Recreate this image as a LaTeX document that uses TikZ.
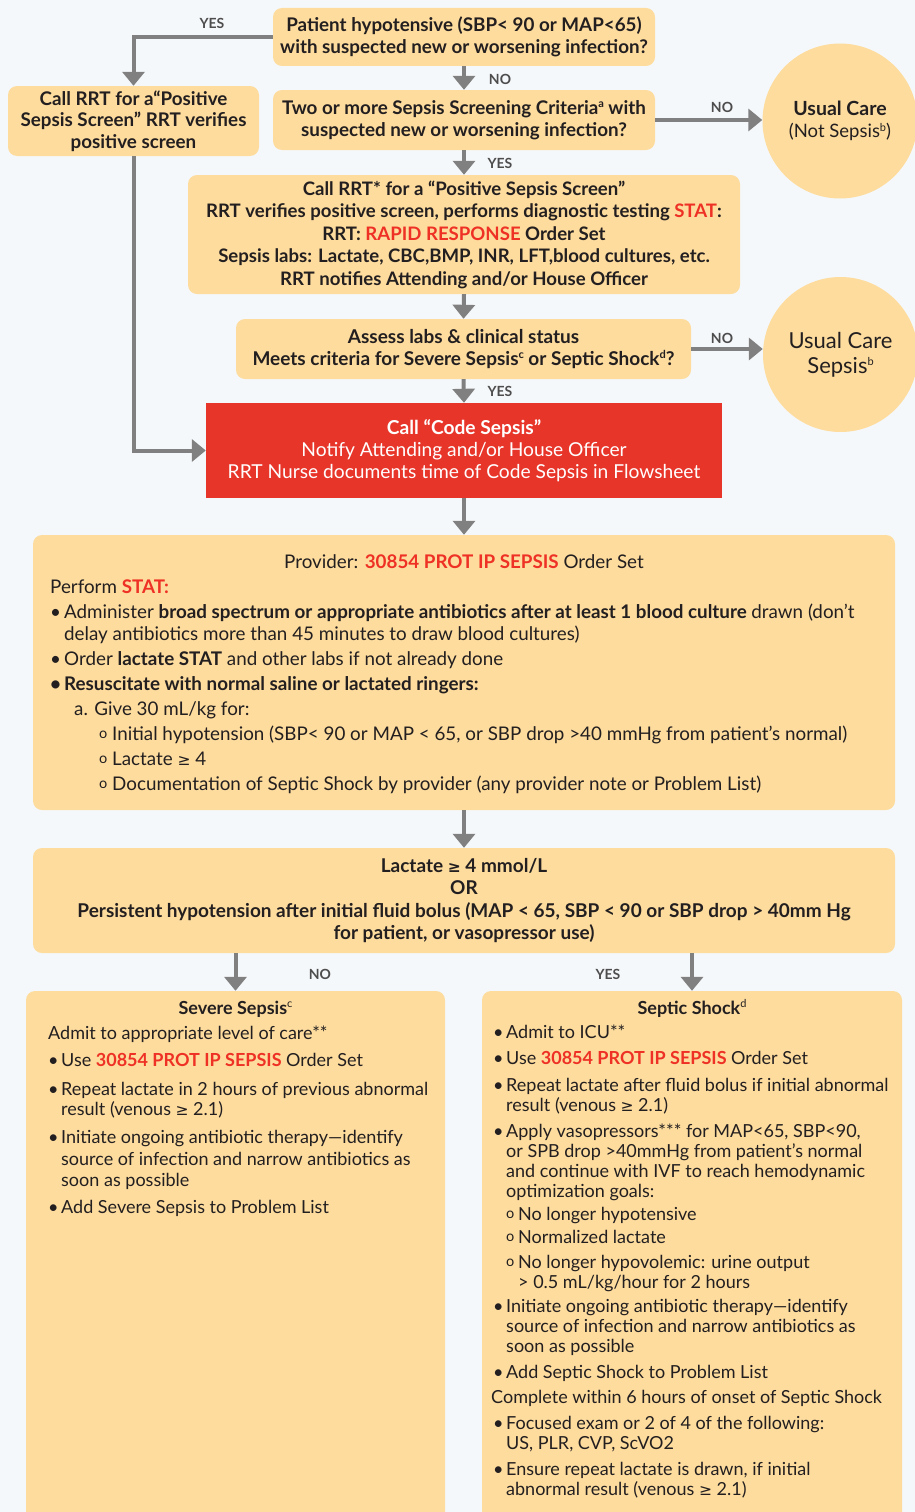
\documentclass[tikz,border=0pt]{standalone}
\usepackage{fontspec}
\setmainfont{Lato}
\newfontfamily\dejavu{DejaVu Sans}
\usetikzlibrary{arrows.meta}
\definecolor{bgc}{HTML}{F5F8FA}
\definecolor{boxc}{HTML}{FDDC9E}
\definecolor{redc}{HTML}{E8352A}
\definecolor{redt}{HTML}{EE3124}
\definecolor{arr}{HTML}{808080}
\definecolor{txt}{HTML}{231F20}
\definecolor{lab}{HTML}{4D4D4D}
\newcommand\GE{{\dejavu\fontsize{15.5}{15}\selectfont ≥}}
\newcommand\ob{\raisebox{1.5pt}{\fontsize{14.5}{14}\selectfont o}}
\newcommand\sups[1]{\raisebox{0.7ex}{\fontsize{11}{11}\selectfont #1}}
\newcounter{tn}
\newcommand\Tx[4][]{\stepcounter{tn}\node[tl,#1] (t\arabic{tn}) at (#2,{#3+6}) {#4};}
\tikzset{
  box/.style={fill=boxc, rounded corners=9pt, inner sep=0pt, text=txt, align=center},
  flow/.style={draw=arr, line width=4pt, -{Triangle[width=22pt,length=14pt]}},
  lbl/.style={font=\bfseries\fontsize{14}{14}\selectfont, text=lab, inner sep=0pt},
  tl/.style={anchor=base west, inner sep=0pt, text=txt},
  hd/.style={font=\bfseries\fontsize{18.8}{21.5}\selectfont},
  circ/.style={circle, fill=boxc, minimum size=155pt, inner sep=0pt, text=txt, align=center},
}
\begin{document}
\begin{tikzpicture}[x=1pt,y=-1pt]
\clip (0,0) rectangle (915,1512);
\fill[bgc] (0,0) rectangle (915,1512);

% top boxes
\node[box, hd, minimum width=382, minimum height=58] (b1) at (464,37)
  {Patient hypotensive (SBP< 90 or MAP<65)\\with suspected new or worsening infection?};
\node[box, hd, minimum width=382, minimum height=60] (b2) at (464,120)
  {Two or more Sepsis Screening Criteria\sups{a} with\\suspected new or worsening infection?};
\node[box, hd, minimum width=251, minimum height=70] (rrt) at (133.5,121)
  {Call RRT for a“Positive\\Sepsis Screen” RRT verifies\\positive screen};
\node[box, font=\bfseries\fontsize{18.6}{22.5}\selectfont, minimum width=552, minimum height=119] (b3) at (464,234.5)
  {Call RRT* for a “Positive Sepsis Screen”\\
   RRT verifies positive screen, performs diagnostic testing \textcolor{redt}{STAT}:\\
   RRT: \textcolor{redt}{RAPID RESPONSE} Order Set\\
   Sepsis labs: Lactate, CBC,BMP, INR, LFT,blood cultures, etc.\\
   RRT notifies Attending and/or House Officer};
\node[box, font=\bfseries\fontsize{19}{22}\selectfont, minimum width=455, minimum height=60] (b4) at (463.5,349)
  {Assess labs \& clinical status\\Meets criteria for Severe Sepsis\sups{c} or Septic Shock\sups{d}?};
\node[fill=redc, inner sep=0pt, text=white, align=center, font=\fontsize{19.2}{22}\selectfont,
      minimum width=516, minimum height=95] (red) at (464,450.5)
  {\textbf{Call “Code Sepsis”}\\Notify Attending and/or House Officer\\RRT Nurse documents time of Code Sepsis in Flowsheet};

% circles
\node[circ, font=\fontsize{18.5}{22}\selectfont] (c1) at (840,121)
  {{\bfseries\fontsize{19.5}{22}\selectfont Usual Care}\\(Not Sepsis\sups{b})};
\node[circ, font=\fontsize{22}{25}\selectfont] (c2) at (840.5,354.5)
  {Usual Care\\Sepsis\sups{b}};

% big boxes
\node[box, minimum width=862, minimum height=275] (b5) at (464,672.5) {};
\node[box, font=\bfseries\fontsize{19}{22.3}\selectfont, minimum width=862, minimum height=105] (b6) at (464,900.5)
  {Lactate \GE{} 4 mmol/L\\OR\\Persistent hypotension after initial fluid bolus (MAP < 65, SBP < 90 or SBP drop > 40mm Hg\\for patient, or vasopressor use)};
\node[box, minimum width=419, minimum height=560] (b7) at (235.5,1271) {};
\node[box, minimum width=420, minimum height=560] (b8) at (692,1271) {};

% connectors
\draw[flow] (b1.west) -| (rrt.north);
\node[lbl] (l1) at (212,23) {YES};
\draw[flow] (b1.south) -- (b2.north);
\node[lbl] (l2) at (500,79) {NO};
\draw[flow] (b2.east) -- (b2.east -| c1.west);
\node[lbl] (l3) at (722,107) {NO};
\draw[flow] (b2.south) -- (b3.north);
\node[lbl] (l4) at (500,163) {YES};
\draw[flow] (b3.south) -- (b4.north);
\draw[flow] (b4.east) -- (b4.east -| c2.west);
\node[lbl] (l5) at (722,338) {NO};
\draw[flow] (b4.south) -- (red.north);
\node[lbl] (l6) at (500,391) {YES};
\draw[flow] (rrt.south) |- (red.west);
\draw[flow] (red.south) -- (b5.north);
\draw[flow] (b5.south) -- (b6.north);
\draw[flow] (b7.north |- b6.south) -- (b7.north);
\draw[flow] (b8.north |- b6.south) -- (b8.north);
\node[lbl] (l7) at (320,974) {NO};
\node[lbl] (l8) at (608,974) {YES};

% box 5 text
\begin{scope}[every node/.append style={font=\fontsize{18.8}{22}\selectfont}]
\Tx[anchor=base]{464}{562}{Provider: \textcolor{redt}{\bfseries 30854 PROT IP SEPSIS} Order Set}
\Tx{50}{587}{Perform \textcolor{redt}{\bfseries STAT:}}
\Tx{50}{612}{•}
\Tx{64}{612}{Administer \textbf{broad spectrum or appropriate antibiotics after at least 1 blood culture} drawn (don’t}
\Tx{64}{634}{delay antibiotics more than 45 minutes to draw blood cultures)}
\Tx{50}{659}{•}
\Tx{64}{659}{Order \textbf{lactate STAT} and other labs if not already done}
\Tx{50}{684}{\textbf{•}}
\Tx{64}{684}{\textbf{Resuscitate with normal saline or lactated ringers:}}
\Tx{74}{709}{a. Give 30 mL/kg for:}
\Tx{99}{734}{\ob}
\Tx{112}{734}{Initial hypotension (SBP< 90 or MAP < 65, or SBP drop >40 mmHg from patient’s normal)}
\Tx{99}{759}{\ob}
\Tx{112}{759}{Lactate \GE{} 4}
\Tx{99}{784}{\ob}
\Tx{112}{784}{Documentation of Septic Shock by provider (any provider note or Problem List)}
\end{scope}

% box 7 text
\begin{scope}[every node/.append style={font=\fontsize{18}{20}\selectfont}]
\Tx[anchor=base]{235.5}{1008}{\textbf{Severe Sepsis}\sups{c}}
\Tx{48}{1033}{Admit to appropriate level of care**}
\Tx{48}{1060}{•}\Tx{61}{1060}{Use \textcolor{redt}{\bfseries 30854 PROT IP SEPSIS} Order Set}
\Tx{48}{1089}{•}\Tx{61}{1089}{Repeat lactate in 2 hours of previous abnormal}
\Tx{61}{1109}{result (venous \GE{} 2.1)}
\Tx{48}{1137}{•}\Tx{61}{1137}{Initiate ongoing antibiotic therapy—identify}
\Tx{61}{1159}{source of infection and narrow antibiotics as}
\Tx{61}{1180}{soon as possible}
\Tx{48}{1207}{•}\Tx{61}{1207}{Add Severe Sepsis to Problem List}
\end{scope}

% box 8 text
\begin{scope}[every node/.append style={font=\fontsize{18}{20}\selectfont}]
\Tx[anchor=base]{692}{1008}{\textbf{Septic Shock}\sups{d}}
\Tx{493}{1032}{•}\Tx{506}{1032}{Admit to ICU**}
\Tx{493}{1058}{•}\Tx{506}{1058}{Use \textcolor{redt}{\bfseries 30854 PROT IP SEPSIS} Order Set}
\Tx{493}{1085}{•}\Tx{506}{1085}{Repeat lactate after fluid bolus if initial abnormal}
\Tx{506}{1105}{result (venous \GE{} 2.1)}
\Tx{493}{1131}{•}\Tx{506}{1131}{Apply vasopressors*** for MAP<65, SBP<90,}
\Tx{506}{1151}{or SPB drop >40mmHg from patient’s normal}
\Tx{506}{1171}{and continue with IVF to reach hemodynamic}
\Tx{506}{1191}{optimization goals:}
\Tx{506}{1214}{\ob}\Tx{518}{1214}{No longer hypotensive}
\Tx{506}{1237}{\ob}\Tx{518}{1237}{Normalized lactate}
\Tx{506}{1262}{\ob}\Tx{518}{1262}{No longer hypovolemic: urine output}
\Tx{518}{1282}{> 0.5 mL/kg/hour for 2 hours}
\Tx{493}{1306}{•}\Tx{506}{1306}{Initiate ongoing antibiotic therapy—identify}
\Tx{506}{1326}{source of infection and narrow antibiotics as}
\Tx{506}{1346}{soon as possible}
\Tx{493}{1372}{•}\Tx{506}{1372}{Add Septic Shock to Problem List}
\Tx{491}{1397}{Complete within 6 hours of onset of Septic Shock}
\Tx{493}{1423}{•}\Tx{506}{1423}{Focused exam or 2 of 4 of the following:}
\Tx{506}{1443}{US, PLR, CVP, ScVO2}
\Tx{493}{1469}{•}\Tx{506}{1469}{Ensure repeat lactate is drawn, if initial}
\Tx{506}{1489}{abnormal result (venous \GE{} 2.1)}
\end{scope}
\end{tikzpicture}
\end{document}
